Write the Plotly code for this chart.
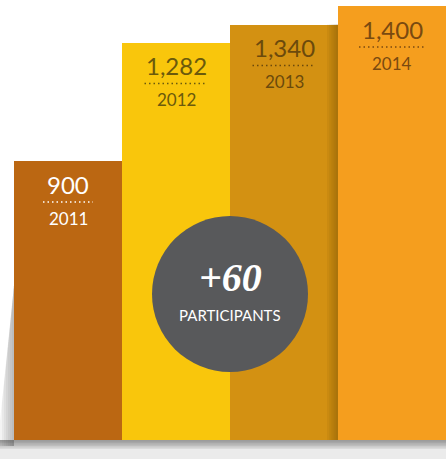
import plotly.graph_objects as go

# data
years = ["2011", "2012", "2013", "2014"]
participants = [900, 1282, 1340, 1400]
bar_colors = ["#bb6712", "#f9c60c", "#d39112", "#f59e1e"]
label_colors = ["#ffffff", "#6b5a0c", "#6b4a0c", "#7a4a10"]
dot_widths = [50, 63, 63, 66]

W, H = 446, 459
ML, MR, MT, MB = 14, 0, 6, 19
PW, PH = W - ML - MR, H - MT - MB


def px_x(p):
    return (p - ML) / PW


def px_y(p):
    return 1 - (p - MT) / PH


xs = list(range(len(years)))

fig = go.Figure(go.Bar(
    x=xs, y=participants, width=1.0,
    marker=dict(color=bar_colors, line=dict(width=0)),
    hoverinfo="skip",
))

shapes = []

# light floor + soft shadow under the bars
shapes.append(dict(type="rect", xref="paper", yref="paper", layer="below",
                   x0=px_x(0), x1=px_x(W), y0=px_y(440), y1=px_y(H),
                   fillcolor="#ebebeb", line=dict(width=0)))
for k in range(6):
    shapes.append(dict(type="rect", xref="paper", yref="paper", layer="below",
                       x0=px_x(0), x1=px_x(W), y0=px_y(440), y1=px_y(440 + 9 - k * 1.5),
                       fillcolor="rgba(60,60,60,0.09)", line=dict(width=0)))

# diagonal shadow to the left of the first bar
for k in range(1, 8):
    w = 2 * k
    top = 295 + w * 9
    path = "M {:.4f},{:.4f} L {:.4f},{:.4f} L {:.4f},{:.4f} L {:.4f},{:.4f} Z".format(
        px_x(ML), px_y(285), px_x(ML), px_y(446),
        px_x(ML - w), px_y(446), px_x(ML - w), px_y(top))
    shapes.append(dict(type="path", xref="paper", yref="paper", layer="below",
                       path=path, fillcolor="rgba(70,70,70,0.06)", line=dict(width=0)))

# darker edge on the right of the 2013 bar
for k in range(1, 6):
    w = 2.2 * k
    shapes.append(dict(type="rect", xref="x", yref="y", layer="above",
                       x0=2.5 - w / 108, x1=2.5, y0=0, y1=participants[2],
                       fillcolor="rgba(90,50,0,0.07)", line=dict(width=0)))

# dotted separators
for i, v in enumerate(participants):
    hw = dot_widths[i] / 2
    shapes.append(dict(type="line", xref="x", yref="y",
                       xsizemode="pixel", ysizemode="pixel",
                       xanchor=xs[i], yanchor=v,
                       x0=-hw, x1=hw, y0=-41, y1=-41,
                       line=dict(color=label_colors[i], width=1.5, dash="1.5px,3px")))

# grey circle
shapes.append(dict(type="circle", xref="x", yref="y",
                   xsizemode="pixel", ysizemode="pixel",
                   xanchor=1.5, yanchor=471,
                   x0=-78, x1=78, y0=-78, y1=78,
                   fillcolor="#58595b", line=dict(width=0)))

annotations = []
for i, v in enumerate(participants):
    annotations.append(dict(x=xs[i], y=v, yshift=-23, text=f"{v:,}", showarrow=False,
                            yanchor="middle",
                            font=dict(family="Lato", size=24, color=label_colors[i])))
    annotations.append(dict(x=xs[i], y=v, yshift=-57, text=years[i], showarrow=False,
                            yanchor="middle",
                            font=dict(family="Lato", size=17, color=label_colors[i])))

gain = participants[-1] - participants[-2]
annotations.append(dict(x=1.5, y=471, yshift=16, text=f"+{gain}", showarrow=False,
                        yanchor="middle",
                        font=dict(family="Liberation Serif", size=40, color="#ffffff",
                                  style="italic", weight="bold")))
annotations.append(dict(x=1.5, y=471, yshift=-21, text="PARTICIPANTS", showarrow=False,
                        yanchor="middle",
                        font=dict(family="Lato", size=15, color="#ffffff")))

fig.update_layout(
    width=W, height=H,
    margin=dict(l=ML, r=MR, t=MT, b=MB),
    paper_bgcolor="#ffffff", plot_bgcolor="rgba(0,0,0,0)",
    bargap=0, showlegend=False,
    xaxis=dict(range=[-0.5, 3.5], visible=False, fixedrange=True),
    yaxis=dict(range=[0, 1400], visible=False, fixedrange=True),
    shapes=shapes, annotations=annotations,
)

# page body margin would otherwise shift the figure by 8px
fig.write_html("out.html", config={"displayModeBar": False},
               post_script="document.body.style.margin='0';document.body.style.overflow='hidden';")
